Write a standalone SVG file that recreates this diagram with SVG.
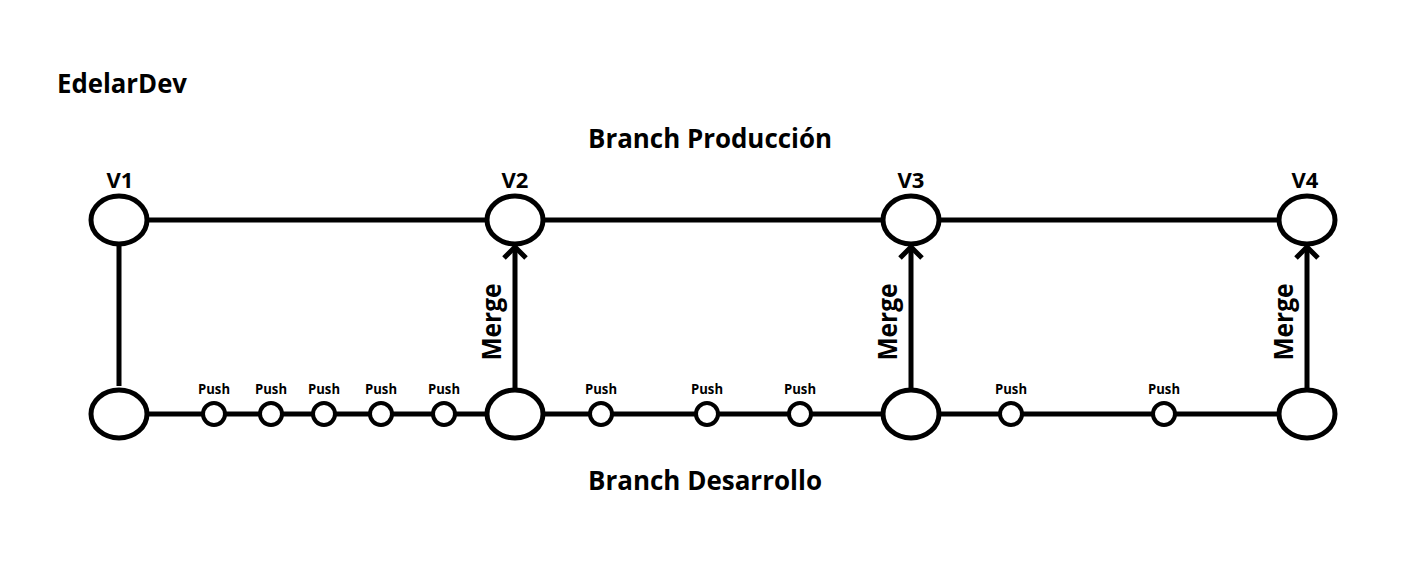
<svg xmlns="http://www.w3.org/2000/svg" width="1422" height="577" viewBox="0 0 1422 577">
<style>
text{font-family:"Open Sans","Liberation Sans",sans-serif;font-weight:bold;fill:#000}
.title{font-size:26px}
.ver{font-size:22px;text-anchor:middle}
.push{font-size:14px;text-anchor:middle}
.merge{font-size:26px;text-anchor:middle}
.big{fill:#fff;stroke:#000;stroke-width:5}
.small{fill:#fff;stroke:#000;stroke-width:4}
.edge{stroke:#000;stroke-width:5;fill:none}
</style>
<defs>
<marker id="chev" markerUnits="userSpaceOnUse" viewBox="-16 -16 32 32" markerWidth="32" markerHeight="32" refX="0" refY="0" orient="auto" overflow="visible">
<path d="M-11,-11 L0,0 L-11,11" fill="none" stroke="#000" stroke-width="5"/>
</marker>
</defs>
<rect width="1422" height="577" fill="#fff"/>
<text class="title" x="57" y="93" textLength="130" lengthAdjust="spacingAndGlyphs">EdelarDev</text>
<text class="title" x="588" y="148" textLength="244" lengthAdjust="spacingAndGlyphs">Branch Producción</text>
<text class="title" x="588" y="490" textLength="234" lengthAdjust="spacingAndGlyphs">Branch Desarrollo</text>
<g id="connectors">
<line class="edge" x1="147" y1="220" x2="487" y2="220"/>
<line class="edge" x1="543" y1="220" x2="883" y2="220"/>
<line class="edge" x1="939" y1="220" x2="1279" y2="220"/>
<line class="edge" x1="147" y1="414" x2="1279" y2="414"/>
<line class="edge" x1="119" y1="244" x2="119" y2="386"/>
<line class="edge" x1="515" y1="389" x2="515" y2="247" marker-end="url(#chev)"/>
<line class="edge" x1="911" y1="389" x2="911" y2="247" marker-end="url(#chev)"/>
<line class="edge" x1="1307" y1="389" x2="1307" y2="247" marker-end="url(#chev)"/>
<text class="merge" transform="translate(501,322) rotate(-90)" textLength="77" lengthAdjust="spacingAndGlyphs">Merge</text>
<text class="merge" transform="translate(897,322) rotate(-90)" textLength="77" lengthAdjust="spacingAndGlyphs">Merge</text>
<text class="merge" transform="translate(1293,322) rotate(-90)" textLength="77" lengthAdjust="spacingAndGlyphs">Merge</text>
</g>
<g id="prod-v1"><ellipse class="big" cx="119" cy="220" rx="28" ry="24"/><text class="ver" x="120" y="188">V1</text></g>
<g id="prod-v2"><ellipse class="big" cx="515" cy="220" rx="28" ry="24"/><text class="ver" x="515" y="188">V2</text></g>
<g id="prod-v3"><ellipse class="big" cx="911" cy="220" rx="28" ry="24"/><text class="ver" x="911" y="188">V3</text></g>
<g id="prod-v4"><ellipse class="big" cx="1307" cy="220" rx="28" ry="24"/><text class="ver" x="1305" y="188">V4</text></g>
<g id="dev-1"><ellipse class="big" cx="119" cy="414" rx="28" ry="24"/></g>
<g id="dev-2"><ellipse class="big" cx="515" cy="414" rx="28" ry="24"/></g>
<g id="dev-3"><ellipse class="big" cx="911" cy="414" rx="28" ry="24"/></g>
<g id="dev-4"><ellipse class="big" cx="1307" cy="414" rx="28" ry="24"/></g>
<g id="push-1"><circle class="small" cx="214" cy="414" r="11"/><text class="push" x="214" y="394" textLength="32" lengthAdjust="spacingAndGlyphs">Push</text></g>
<g id="push-2"><circle class="small" cx="271" cy="414" r="11"/><text class="push" x="271" y="394" textLength="32" lengthAdjust="spacingAndGlyphs">Push</text></g>
<g id="push-3"><circle class="small" cx="324" cy="414" r="11"/><text class="push" x="324" y="394" textLength="32" lengthAdjust="spacingAndGlyphs">Push</text></g>
<g id="push-4"><circle class="small" cx="381" cy="414" r="11"/><text class="push" x="381" y="394" textLength="32" lengthAdjust="spacingAndGlyphs">Push</text></g>
<g id="push-5"><circle class="small" cx="444" cy="414" r="11"/><text class="push" x="444" y="394" textLength="32" lengthAdjust="spacingAndGlyphs">Push</text></g>
<g id="push-6"><circle class="small" cx="601" cy="414" r="11"/><text class="push" x="601" y="394" textLength="32" lengthAdjust="spacingAndGlyphs">Push</text></g>
<g id="push-7"><circle class="small" cx="707" cy="414" r="11"/><text class="push" x="707" y="394" textLength="32" lengthAdjust="spacingAndGlyphs">Push</text></g>
<g id="push-8"><circle class="small" cx="800" cy="414" r="11"/><text class="push" x="800" y="394" textLength="32" lengthAdjust="spacingAndGlyphs">Push</text></g>
<g id="push-9"><circle class="small" cx="1011" cy="414" r="11"/><text class="push" x="1011" y="394" textLength="32" lengthAdjust="spacingAndGlyphs">Push</text></g>
<g id="push-10"><circle class="small" cx="1164" cy="414" r="11"/><text class="push" x="1164" y="394" textLength="32" lengthAdjust="spacingAndGlyphs">Push</text></g>
</svg>
